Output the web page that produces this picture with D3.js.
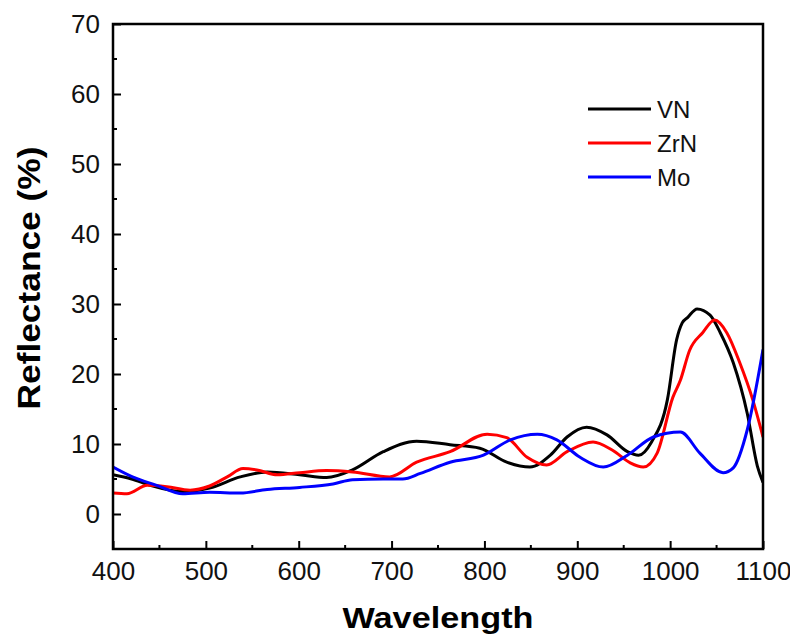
<!DOCTYPE html>
<html><head><meta charset="utf-8">
<script src="https://cdn.jsdelivr.net/npm/d3@7/dist/d3.min.js"></script>
<style>body{margin:0;background:#fff}svg{display:block}</style>
</head><body>
<svg id="chart" width="790" height="640"></svg>
<script>
const seriesNames = ["VN", "ZrN", "Mo"];
const seriesColors = ["#000000", "#ff0000", "#0000ff"];

const vnWave = [400,420,440,475,504,537,566,601,630,658,691,727,763,795,824,849,871,889,910,932,954,966,980,997,1007,1013,1019,1029,1043,1054,1068,1083,1094,1100];
const vnRefl = [5.6,5.0,4.1,3.2,3.7,5.3,6.0,5.6,5.2,6.3,8.9,10.4,9.9,9.4,7.4,6.7,8.4,11.0,12.4,11.3,8.9,8.4,10.3,16.3,24.9,27.3,28.1,29.3,28.4,25.9,21.6,14.4,6.8,4.5];

const zrnWave = [400,415,437,458,483,504,523,540,555,577,601,630,658,698,727,763,803,824,846,867,889,917,938,957,971,986,1003,1011,1021,1035,1048,1061,1075,1089,1100];
const zrnRefl = [3.0,2.9,4.1,3.9,3.4,4.0,5.3,6.5,6.3,5.6,5.9,6.2,6.0,5.3,7.4,8.9,11.4,10.9,8.1,7.0,8.9,10.3,9.1,7.3,6.7,8.7,16.7,19.1,23.4,25.9,27.7,25.9,21.6,16.3,11.0];

const moWave = [400,421,447,475,504,537,566,601,637,658,691,712,731,763,799,828,857,878,903,928,954,982,1011,1032,1057,1068,1083,1100];
const moRefl = [6.7,5.3,4.1,2.9,3.1,3.0,3.5,3.8,4.3,4.9,5.0,5.0,5.8,7.4,8.4,10.6,11.4,10.6,8.1,6.7,8.4,11.0,11.7,8.7,5.9,6.6,12.0,23.5];

const xTicks = [400,500,600,700,800,900,1000,1100];
const yTicks = [0,10,20,30,40,50,60,70];

const svg = d3.select("#chart");
const L = 113, R = 763, T = 24, B = 549;
const x = d3.scaleLinear().domain([400,1100]).range([L,R]);
const y = d3.scaleLinear().domain([-5,70]).range([B,T]);
const font = "Liberation Sans, Arial, sans-serif";

const series = [
  {name: seriesNames[0], color: seriesColors[0], w: vnWave, r: vnRefl},
  {name: seriesNames[1], color: seriesColors[1], w: zrnWave, r: zrnRefl},
  {name: seriesNames[2], color: seriesColors[2], w: moWave, r: moRefl}
];

const line = d3.line().x(d => x(d[0])).y(d => y(d[1])).curve(d3.curveMonotoneX);
svg.append("clipPath").attr("id","clp").append("rect")
  .attr("x",L).attr("y",T).attr("width",R-L).attr("height",B-T);
const g = svg.append("g").attr("clip-path","url(#clp)");
series.forEach(s => {
  g.append("path").datum(s.w.map((w,i)=>[w,s.r[i]]))
    .attr("d", line).attr("fill","none").attr("stroke", s.color)
    .attr("stroke-width", 3).attr("stroke-linejoin","round");
});

// Axes (ticks inward)
const xMinor = d3.range(450,1100,100);
const yMinor = d3.range(5,70,10);
const axB = d3.axisBottom(x).tickValues(xTicks).tickSize(-8).tickPadding(13).tickFormat(d3.format("d"));
const axL = d3.axisLeft(y).tickValues(yTicks).tickSize(-8).tickPadding(13).tickFormat(d3.format("d"));
const gx = svg.append("g").attr("transform",`translate(0,${B})`).call(axB);
const gy = svg.append("g").attr("transform",`translate(${L},0)`).call(axL);
[gx,gy].forEach(a=>{
  a.select(".domain").remove();
  a.selectAll(".tick line").attr("stroke","#000").attr("stroke-width",2);
  a.selectAll(".tick text").attr("font-family",font).attr("font-size",26).attr("fill","#111");
});
svg.append("g").selectAll("line").data(xMinor).join("line")
  .attr("x1",d=>x(d)).attr("x2",d=>x(d)).attr("y1",B).attr("y2",B-4)
  .attr("stroke","#000").attr("stroke-width",2);
svg.append("g").selectAll("line").data(yMinor).join("line")
  .attr("x1",L).attr("x2",L+4).attr("y1",d=>y(d)).attr("y2",d=>y(d))
  .attr("stroke","#000").attr("stroke-width",2);

svg.append("rect").attr("x",L).attr("y",T).attr("width",R-L).attr("height",B-T)
  .attr("fill","none").attr("stroke","#000").attr("stroke-width",2.5);

// Axis titles
svg.append("text").attr("x",(L+R)/2).attr("y",628).attr("text-anchor","middle")
  .attr("font-family",font).attr("font-weight","bold").attr("font-size",30)
  .attr("textLength",191).attr("lengthAdjust","spacingAndGlyphs").text("Wavelength");
svg.append("text").attr("transform",`translate(40,278) rotate(-90)`).attr("text-anchor","middle")
  .attr("font-family",font).attr("font-weight","bold").attr("font-size",32)
  .attr("textLength",263).attr("lengthAdjust","spacingAndGlyphs").text("Reflectance (%)");

// Legend
const leg = svg.append("g");
series.forEach((s,i)=>{
  const yy = 109 + i*34;
  leg.append("line").attr("x1",588).attr("x2",651).attr("y1",yy).attr("y2",yy)
    .attr("stroke",s.color).attr("stroke-width",3);
  leg.append("text").attr("x",657).attr("y",yy+9).attr("font-family",font)
    .attr("font-size",24).attr("fill","#111").text(s.name);
});
</script>
</body></html>
